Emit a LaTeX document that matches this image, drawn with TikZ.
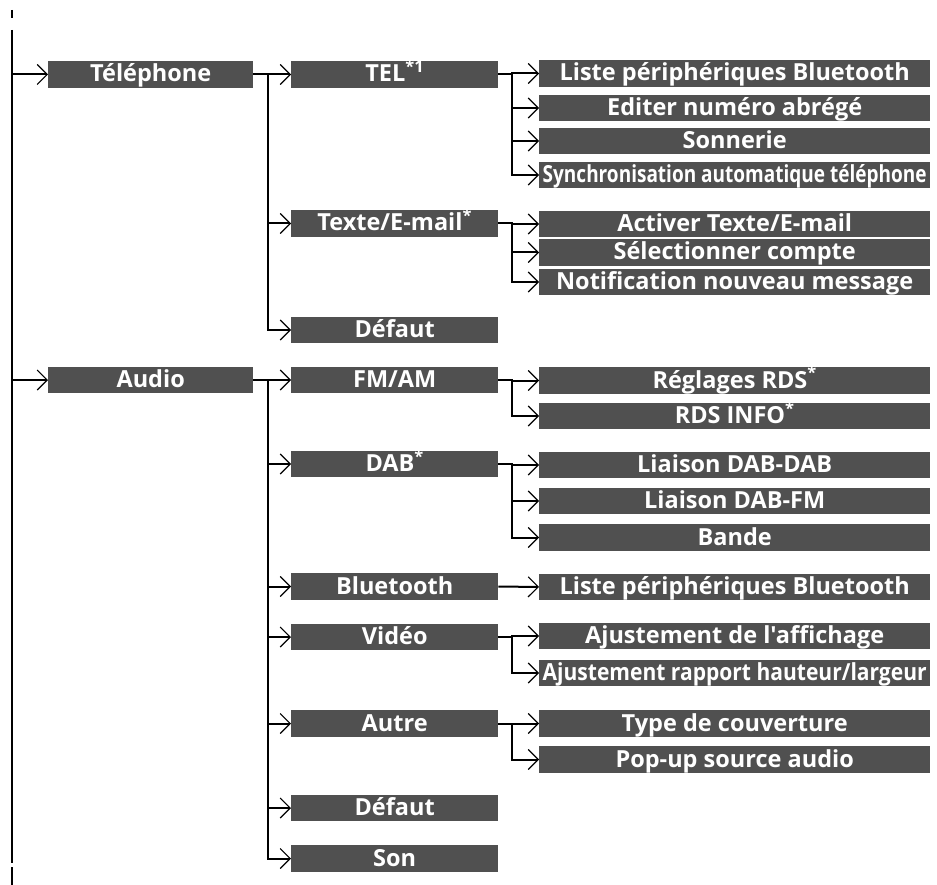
\documentclass[tikz,border=0pt]{standalone}
\usepackage{fontspec}
\setmainfont{Open Sans}[Ligatures=TeXOff]
\usepackage{xcolor}
\usepackage{tikz}
\usetikzlibrary{arrows.meta,positioning,calc}

\definecolor{boxgray}{RGB}{80,80,80}
\newcommand{\squeeze}[1]{\resizebox{384pt}{\height}{#1}}
\newcommand{\fn}[1]{\textsuperscript{#1}}

\begin{document}
\begin{tikzpicture}[
  x=1pt, y=-1pt,
  box/.style={
    anchor=west,
    fill=boxgray,
    text=white,
    inner sep=0pt,
    minimum height=26.5pt,
    text height=20pt,
    text depth=5pt,
    font=\bfseries\fontsize{23.5}{24}\selectfont
  },
  main/.style={box, minimum width=205pt},
  sub/.style={box, minimum width=207pt},
  item/.style={box, minimum width=391pt},
  line/.style={-{Straight Barb[length=10pt,width=20pt,line width=1.1pt]}, line width=2pt},
  trunk/.style={line width=2pt}
]
\useasboundingbox (0,0) rectangle (937,885);

\coordinate (top) at (12,30);
\coordinate (bot) at (12,863);
\draw[trunk] (top) -- (bot);
\draw[trunk] (12,10) -- (12,18);
\draw[trunk] (12,867) -- (12,885);

% level 1
\node[main] (tel) at (48,74.5) {Téléphone};
\node[main] (audio) at (48,380) {Audio};

% level 2
\node[sub] (telTEL) at (291,74.5) {TEL\fn{*1}};
\node[sub] (telTXT) at (291,223.5) {Texte/E-mail\fn{*}};
\node[sub] (telDEF) at (291,330) {Défaut};
\node[sub] (auFM) at (291,380) {FM/AM};
\node[sub] (auDAB) at (291,464) {DAB\fn{*}};
\node[sub] (auBT) at (291,586.5) {Bluetooth};
\node[sub] (auVID) at (291,637) {Vidéo};
\node[sub] (auOTH) at (291,723.5) {Autre};
\node[sub] (auDEF) at (291,808) {Défaut};
\node[sub] (auSON) at (291,858.5) {Son};

% level 3
\node[item] (tel1) at (539,73.5) {Liste périphériques Bluetooth};
\node[item] (tel2) at (539,108) {Editer numéro abrégé};
\node[item] (tel3) at (539,141) {Sonnerie};
\node[item] (tel4) at (539,175) {\squeeze{Synchronisation automatique téléphone}};
\node[item] (txt1) at (539,224) {Activer Texte/E-mail};
\node[item] (txt2) at (539,252.5) {Sélectionner compte};
\node[item] (txt3) at (539,282) {Notification nouveau message};
\node[item] (fm1) at (539,380.5) {Réglages RDS\fn{*}};
\node[item] (fm2) at (539,416) {RDS INFO\fn{*}};
\node[item] (dab1) at (539,465) {Liaison DAB-DAB};
\node[item] (dab2) at (539,501) {Liaison DAB-FM};
\node[item] (dab3) at (539,537.5) {Bande};
\node[item] (bt1) at (539,587) {Liste périphériques Bluetooth};
\node[item] (vid1) at (539,636) {Ajustement de l'affichage};
\node[item] (vid2) at (539,673) {\squeeze{Ajustement rapport hauteur/largeur}};
\node[item] (oth1) at (539,723.5) {Type de couverture};
\node[item] (oth2) at (539,759.5) {Pop-up source audio};

% trunk to level 1
\draw[line] (top |- tel) -- (tel.west);
\draw[line] (top |- audio) -- (audio.west);

% level 1 to level 2
\foreach \c in {telTEL,telTXT,telDEF}
  \draw[line] (tel.east) -- ++(15,0) |- (\c.west);
\foreach \c in {auFM,auDAB,auBT,auVID,auOTH,auDEF,auSON}
  \draw[line] (audio.east) -- ++(15,0) |- (\c.west);

% level 2 to level 3
\foreach \c in {tel1,tel2,tel3,tel4}
  \draw[line] (telTEL.east) -- ++(14,0) |- (\c.west);
\foreach \c in {txt1,txt2,txt3}
  \draw[line] (telTXT.east) -- ++(14,0) |- (\c.west);
\foreach \c in {fm1,fm2}
  \draw[line] (auFM.east) -- ++(14,0) |- (\c.west);
\foreach \c in {dab1,dab2,dab3}
  \draw[line] (auDAB.east) -- ++(14,0) |- (\c.west);
\draw[line] (auBT.east) -- (bt1.west);
\foreach \c in {vid1,vid2}
  \draw[line] (auVID.east) -- ++(14,0) |- (\c.west);
\foreach \c in {oth1,oth2}
  \draw[line] (auOTH.east) -- ++(14,0) |- (\c.west);

\end{tikzpicture}
\end{document}
